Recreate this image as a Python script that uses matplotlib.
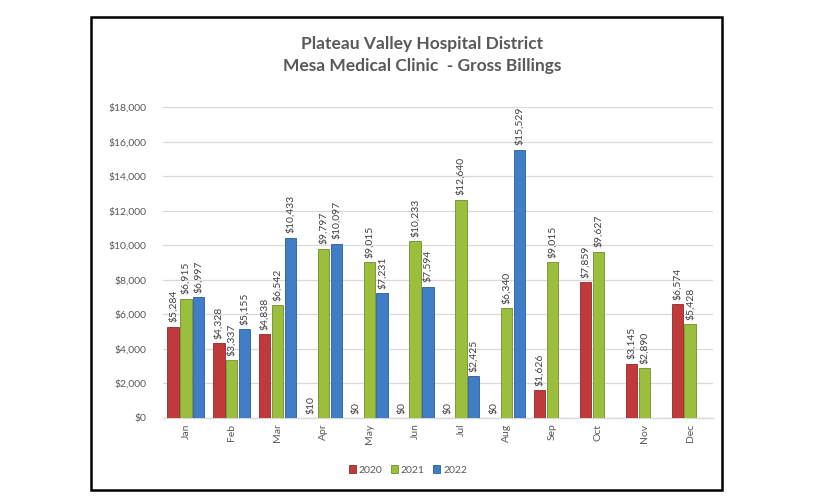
import matplotlib
matplotlib.use("Agg")
import matplotlib.pyplot as plt
from matplotlib.patches import Rectangle
from matplotlib.ticker import FuncFormatter, MultipleLocator
import numpy as np

plt.rcParams['font.family'] = ['Lato', 'DejaVu Sans']

months = ["Jan", "Feb", "Mar", "Apr", "May", "Jun", "Jul", "Aug", "Sep", "Oct", "Nov", "Dec"]
years = ["2020", "2021", "2022"]
v2020 = [5284, 4328, 4838, 10, 0, 0, 0, 0, 1626, 7859, 3145, 6574]
v2021 = [6915, 3337, 6542, 9797, 9015, 10233, 12640, 6340, 9015, 9627, 2890, 5428]
v2022 = [6997, 5155, 10433, 10097, 7231, 7594, 2425, 15529, None, None, None, None]
title = "Plateau Valley Hospital District\nMesa Medical Clinic  - Gross Billings"

colors = ["#C0393B", "#9BBF3C", "#3F7DC6"]
edges = ["#8E2A2A", "#6F8F2A", "#2D5C94"]

fig = plt.figure(figsize=(8.16, 5.04), dpi=100)
fig.patch.set_facecolor("white")
fig.add_artist(Rectangle((91/816, 1-490/504), (722-91)/816, (490-17)/504,
                         transform=fig.transFigure, fill=False, edgecolor="black", linewidth=1.8))

ax = fig.add_axes([163/816, 1-418/504, 550/816, 311/504])
x = np.arange(len(months))
w = 0.25
step = 0.28
for i, (vals, c, ec, lab) in enumerate(zip([v2020, v2021, v2022], colors, edges, years)):
    xs = [xx + (i-1)*step for xx, v in zip(x, vals) if v is not None]
    vs = [v for v in vals if v is not None]
    ax.bar(xs, vs, width=w, color=c, edgecolor=ec, linewidth=0.6, label=lab, zorder=3)
    for xx, v in zip(xs, vs):
        ax.text(xx, v + 250, f"${v:,}", rotation=90, ha="center", va="bottom",
                fontsize=7.5, color="#404040", zorder=4)

ax.set_xlim(-0.5, 11.5)
ax.set_ylim(0, 18000)
ax.yaxis.set_major_locator(MultipleLocator(2000))
ax.yaxis.set_major_formatter(FuncFormatter(lambda v, p: f"${int(v):,}"))
ax.set_xticks(x)
ax.set_xticklabels(months, rotation=90, fontsize=7.5, color="#595959")
ax.tick_params(axis="y", labelsize=7.5, labelcolor="#595959", length=0, pad=12)
ax.tick_params(axis="x", length=0, pad=4)
ax.grid(axis="y", color="#D9D9D9", linewidth=0.9, zorder=0)
for s in ["top", "right", "left"]:
    ax.spines[s].set_visible(False)
ax.spines["bottom"].set_color("#D9D9D9")
ax.spines["bottom"].set_linewidth(1.0)

fig.text(422/816, 1-55/504, title, ha="center", va="center", fontsize=12.5,
         fontweight="bold", color="#595959", linespacing=1.45)

leg = fig.legend(loc="center", bbox_to_anchor=(408/816, 1-470/504), ncol=3, frameon=False,
                 fontsize=7.5, handlelength=0.7, handleheight=0.7, handletextpad=0.25,
                 columnspacing=0.8)
for t in leg.get_texts():
    t.set_color("#595959")

fig.savefig("out.png", dpi=100, facecolor="white")
